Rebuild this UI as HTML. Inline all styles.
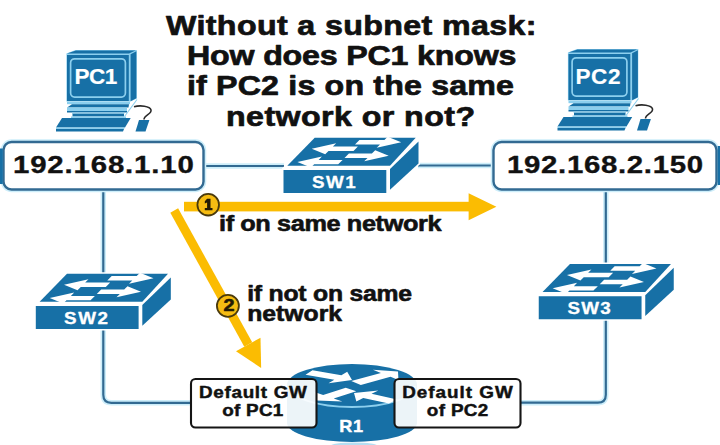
<!DOCTYPE html>
<html><head><meta charset="utf-8">
<style>
html,body{margin:0;padding:0;background:#fff;width:720px;height:445px;overflow:hidden}
svg{display:block}
text{font-family:"Liberation Sans",sans-serif;font-weight:bold}
</style></head>
<body>
<svg width="720" height="445" viewBox="0 0 720 445">
<defs>
<g id="sw"><polygon points="0,23 0,-1 3.8,-4.3 31.2,-32.2 132.2,-32.2 135,-28.5 135,-6.5 106.5,19.8 104,23" fill="#fff" stroke="#fff" stroke-width="3"/><rect x="0" y="0" width="102.8" height="23" fill="#1770a6"/><polygon points="3.8,-4.3 106.5,-4.3 132.2,-32.2 31.2,-32.2" fill="#1770a6"/><polygon points="106.5,-1 135,-28.5 135,-6.5 106.5,19.8" fill="#1770a6"/><g transform="matrix(1,0,-1,1,31.2,-32.2)" fill="#fff"><polygon points="47.00,6.70 72.00,6.70 72.00,10.00 91.00,4.50 72.00,-1.00 72.00,2.30 47.00,2.30"/><polygon points="52.00,8.80 27.00,8.80 27.00,5.50 8.00,11.00 27.00,16.50 27.00,13.20 52.00,13.20"/><polygon points="50.00,20.20 73.00,20.20 73.00,23.50 92.00,18.00 73.00,12.50 73.00,15.80 50.00,15.80"/><polygon points="50.00,22.10 26.00,22.10 26.00,18.80 7.00,24.30 26.00,29.80 26.00,26.50 50.00,26.50"/></g></g>
<g id="pc">
    <polygon points="66.4,101.5 66.4,53.5 75.5,50 136.8,50 136.8,98.6 130.5,101.5" fill="#8ccfee"/>
    <polygon points="67,53.4 129,53.4 135.5,50.4 76,50.4" fill="#1770a6"/>
    <polygon points="130.6,54.2 136.4,51.2 136.4,98.3 130.6,101.2" fill="#1770a6"/>
    <rect x="67" y="55" width="61.8" height="46" fill="#1770a6"/>
    <rect x="70.6" y="58.8" width="54.8" height="38.3" rx="4" fill="none" stroke="#8ccfee" stroke-width="1.7"/>
    <rect x="67" y="101.6" width="63" height="2.6" fill="#8ccfee"/>
    <polygon points="72,104.2 129,104.2 128.5,107.5 67,107.5" fill="#1770a6"/>
    <rect x="67" y="107.5" width="60" height="3.5" fill="#8ccfee"/>
    <rect x="67" y="111" width="60" height="1.5" fill="#1770a6"/>
    <rect x="72" y="112.5" width="52.5" height="1.2" fill="#8ccfee"/>
    <rect x="72.5" y="113.7" width="51.5" height="2.8" fill="#1770a6"/>
    <rect x="71" y="116.5" width="55" height="1.5" fill="#8ccfee"/>
    <line x1="137" y1="99.5" x2="124.5" y2="116.5" stroke="#8ccfee" stroke-width="1.1"/>
    <polygon points="62,118 130.7,118 125,127.6 56,127.6" fill="#1770a6"/>
    <polygon points="56,127.6 125,127.6 124,129 56,129" fill="#8ccfee"/>
    <polygon points="56,129 124,129 123,131.4 56,131.4" fill="#1770a6"/>
    <polygon points="139,120 149.4,120 145.5,131.4 135.5,131.4" fill="#1770a6"/>
    <path d="M134,106.8 C140,105 150,106 151,110 C152,114 144,115 144,119.5" fill="none" stroke="#2a2a2a" stroke-width="1.6"/>
  </g>
</defs>
<g fill="none" stroke="#cdeefa" stroke-width="5.5">
  <line x1="203" y1="166" x2="284" y2="166"/>
  <line x1="418" y1="165.5" x2="494" y2="165.5"/>
  <path d="M103.3,189 V394.8 Q103.3,402.8 111.3,402.8 H191"/>
  <path d="M605.8,189 V394.7 Q605.8,402.7 597.8,402.7 H520"/>
</g>
<g fill="none" stroke="#326a92" stroke-width="2.2">
  <line x1="203" y1="166" x2="284" y2="166"/>
  <line x1="418" y1="165.5" x2="494" y2="165.5"/>
  <path d="M103.3,189 V394.8 Q103.3,402.8 111.3,402.8 H191"/>
  <path d="M605.8,189 V394.7 Q605.8,402.7 597.8,402.7 H520"/>
</g>
<text transform="translate(166.0,34.8) scale(1.15,1)" x="0" y="0" font-family="Liberation Sans" font-weight="bold" font-size="28" textLength="322.191" lengthAdjust="spacing" fill="#111" stroke="#111" stroke-width="0.7" stroke-linejoin="round">Without a subnet mask:</text>
<text transform="translate(187.0,65.2) scale(1.15,1)" x="0" y="0" font-family="Liberation Sans" font-weight="bold" font-size="28" textLength="286.539" lengthAdjust="spacing" fill="#111" stroke="#111" stroke-width="0.7" stroke-linejoin="round">How does PC1 knows</text>
<text transform="translate(187.0,95.4) scale(1.15,1)" x="0" y="0" font-family="Liberation Sans" font-weight="bold" font-size="28" textLength="284.365" lengthAdjust="spacing" fill="#111" stroke="#111" stroke-width="0.7" stroke-linejoin="round">if PC2 is on the same</text>
<text transform="translate(226.0,125.8) scale(1.15,1)" x="0" y="0" font-family="Liberation Sans" font-weight="bold" font-size="28" textLength="216.557" lengthAdjust="spacing" fill="#111" stroke="#111" stroke-width="0.7" stroke-linejoin="round">network or not?</text>

<use href="#pc"/>
<text transform="translate(74.5,84.4) scale(1.0,1)" x="0" y="0" font-family="Liberation Sans" font-weight="bold" font-size="22.5" textLength="42.71" lengthAdjust="spacing" fill="#fff" stroke="#fff" stroke-width="0.2" stroke-linejoin="round">PC1</text>

<use href="#pc" transform="translate(501.5,-1)"/>
<text transform="translate(575.6,84.2) scale(1.0,1)" x="0" y="0" font-family="Liberation Sans" font-weight="bold" font-size="22.5" textLength="44.81" lengthAdjust="spacing" fill="#fff" stroke="#fff" stroke-width="0.2" stroke-linejoin="round">PC2</text>

<rect x="3.5" y="142" width="200" height="47.5" rx="8" fill="#fff" stroke="#cdeefa" stroke-width="5.5"/>
<rect x="3.5" y="142" width="200" height="47.5" rx="8" fill="#fff" stroke="#326a92" stroke-width="2.4"/>
<rect x="0" y="148.5" width="2.8" height="35.5" fill="#1770a6"/>
<text transform="translate(13.0,172.5) scale(1.2,1)" x="0" y="0" font-family="Liberation Sans" font-weight="bold" font-size="24.5" textLength="150.683" lengthAdjust="spacing" fill="#111" stroke="#111" stroke-width="0.35" stroke-linejoin="round">192.168.1.10</text>

<rect x="493.5" y="142" width="223" height="47.5" rx="8" fill="#fff" stroke="#cdeefa" stroke-width="5.5"/>
<rect x="493.5" y="142" width="223" height="47.5" rx="8" fill="#fff" stroke="#326a92" stroke-width="2.4"/>
<rect x="717.6" y="146" width="2.4" height="39" fill="#1770a6"/>
<text transform="translate(507.0,172.5) scale(1.2,1)" x="0" y="0" font-family="Liberation Sans" font-weight="bold" font-size="24.5" textLength="163.392" lengthAdjust="spacing" fill="#111" stroke="#111" stroke-width="0.35" stroke-linejoin="round">192.168.2.150</text>

<use href="#sw" transform="translate(283.5,170)"/>
<text transform="translate(312.0,188) scale(1.12,1)" x="0" y="0" font-family="Liberation Sans" font-weight="bold" font-size="16.8" textLength="38.973" lengthAdjust="spacing" fill="#fff" stroke="#fff" stroke-width="0.3" stroke-linejoin="round">SW1</text>

<use href="#sw" transform="translate(35.8,306)"/>
<text transform="translate(64.0,323.75) scale(1.12,1)" x="0" y="0" font-family="Liberation Sans" font-weight="bold" font-size="16.8" textLength="39.312" lengthAdjust="spacing" fill="#fff" stroke="#fff" stroke-width="0.3" stroke-linejoin="round">SW2</text>

<use href="#sw" transform="translate(538.75,296.25)"/>
<text transform="translate(567.5,313.5) scale(1.12,1)" x="0" y="0" font-family="Liberation Sans" font-weight="bold" font-size="16.8" textLength="38.536" lengthAdjust="spacing" fill="#fff" stroke="#fff" stroke-width="0.3" stroke-linejoin="round">SW3</text>

<ellipse cx="354" cy="446" rx="24" ry="3.5" fill="#b5def2"/><path d="M287,384.5 V423 A65,19 0 0 0 417,423 V384.5 Z" fill="#1770a6"/><ellipse cx="352" cy="384.5" rx="65" ry="20.5" fill="#1770a6"/><path d="M289,386.0 A63,21.0 0 0 0 415,386.0" fill="none" stroke="#8ccfee" stroke-width="1.8"/><g fill="#fff"><polygon points="305.50,374.69 334.35,379.72 328.51,383.37 352.00,380.00 347.20,371.70 341.36,375.34 312.50,370.31"/><polygon points="360.79,384.90 390.48,376.78 398.46,379.95 398.00,371.50 372.92,369.79 380.90,372.97 351.21,381.10"/><polygon points="345.75,387.73 323.17,395.04 314.42,392.09 317.00,400.50 342.43,401.52 333.68,398.57 356.25,391.27"/><polygon points="397.13,399.43 371.48,393.84 378.37,390.40 354.00,393.00 356.33,401.42 363.22,397.98 388.87,403.57"/></g><text transform="translate(339.2,432) scale(1.1,1)" x="0" y="0" font-family="Liberation Sans" font-weight="bold" font-size="16.5" textLength="21.709" lengthAdjust="spacing" fill="#fff" stroke="#fff" stroke-width="0.4" stroke-linejoin="round">R1</text>

<rect x="191" y="379" width="125.5" height="48.5" rx="4.5" fill="#fff" fill-opacity="0.92" stroke="#151515" stroke-width="2.1"/>
<text transform="translate(199.0,398.3) scale(1.15,1)" x="0" y="0" font-family="Liberation Sans" font-weight="bold" font-size="16.4" textLength="93.765" lengthAdjust="spacing" fill="#111" stroke="#111" stroke-width="0.45" stroke-linejoin="round">Default GW</text>
<text transform="translate(222.2,415.8) scale(1.15,1)" x="0" y="0" font-family="Liberation Sans" font-weight="bold" font-size="16.4" textLength="53.113" lengthAdjust="spacing" fill="#111" stroke="#111" stroke-width="0.45" stroke-linejoin="round">of PC1</text>

<rect x="394.5" y="379" width="126" height="48.5" rx="4.5" fill="#fff" fill-opacity="0.92" stroke="#151515" stroke-width="2.1"/>
<text transform="translate(402.2,398.3) scale(1.15,1)" x="0" y="0" font-family="Liberation Sans" font-weight="bold" font-size="16.4" textLength="96.191" lengthAdjust="spacing" fill="#111" stroke="#111" stroke-width="0.45" stroke-linejoin="round">Default GW</text>
<text transform="translate(426.8,415.8) scale(1.15,1)" x="0" y="0" font-family="Liberation Sans" font-weight="bold" font-size="16.4" textLength="53.452" lengthAdjust="spacing" fill="#111" stroke="#111" stroke-width="0.45" stroke-linejoin="round">of PC2</text>

<g fill="#fbbc02">
  <rect x="184" y="201.8" width="286" height="9.6"/>
  <polygon points="468.6,193.2 496.4,206.8 468.6,220.3"/>
  <polygon points="170.3,212.7 178.1,208.3 252.2,342.3 244.3,346.7"/>
  <polygon points="236,351.3 260.5,337.7 261.15,367.9"/>
</g>
<g stroke="#4a3a0c" stroke-width="1.8" fill="#f6bc12">
  <circle cx="208.2" cy="204.7" r="10.8"/>
  <circle cx="227.9" cy="305.8" r="11"/>
</g>
<path d="M207.1,198.8 H210.5 V207.9 H212.5 V210.2 H204.8 V207.9 H207.1 V202.6 L204.8,203.6 V201.2 Z" fill="#231a05"/>
<text x="223.5" y="310.6" font-family="Liberation Sans" font-weight="bold" font-size="16.5" textLength="11.0" lengthAdjust="spacingAndGlyphs" fill="#231a05" stroke="#231a05" stroke-width="0.6" stroke-linejoin="round">2</text>

<text transform="translate(219.0,231.3) scale(1.15,1)" x="0" y="0" font-family="Liberation Sans" font-weight="bold" font-size="22" textLength="193.478" lengthAdjust="spacing" fill="#111" stroke="#111" stroke-width="0.6" stroke-linejoin="round">if on same network</text>
<text transform="translate(247.2,300.7) scale(1.15,1)" x="0" y="0" font-family="Liberation Sans" font-weight="bold" font-size="21.5" textLength="143.357" lengthAdjust="spacing" fill="#111" stroke="#111" stroke-width="0.6" stroke-linejoin="round">if not on same</text>
<text transform="translate(247.2,320.7) scale(1.15,1)" x="0" y="0" font-family="Liberation Sans" font-weight="bold" font-size="21.5" textLength="82.47" lengthAdjust="spacing" fill="#111" stroke="#111" stroke-width="0.6" stroke-linejoin="round">network</text>

</svg>
</body></html>
